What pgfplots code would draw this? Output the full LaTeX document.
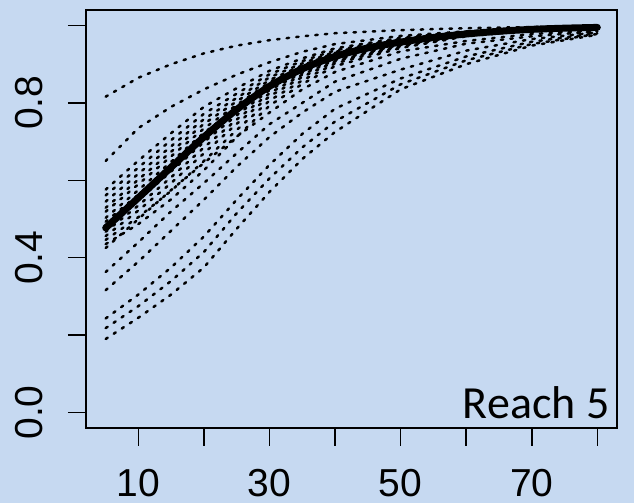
\documentclass[border=0pt]{standalone}
\usepackage{fontspec}
\setmainfont{Liberation Sans}
\newfontfamily\calib{Carlito}
\usepackage{pgfplots}
\pgfplotsset{compat=1.18}
\definecolor{bg}{HTML}{C6D9F1}
\begin{document}
\begin{tikzpicture}
\path[use as bounding box] (0,0) rectangle (317pt,251.5pt);
\fill[bg] (0,0) rectangle (317pt,251.5pt);
\begin{axis}[
  at={(43pt,37.5pt)}, anchor=south west, scale only axis,
  width=265.5pt, height=209pt,
  xmin=2, xmax=83, ymin=-0.04, ymax=1.04,
  axis line style={line width=0.75pt},
  tick align=outside, xtick pos=left, ytick pos=left,
  major tick length=9pt,
  every tick/.style={black, line width=0.75pt},
  xtick={10,20,30,40,50,60,70,80},
  xticklabels={10,,30,,50,,70,},
  ytick={0,0.2,0.4,0.6,0.8,1.0},
  yticklabels={0.0,,0.4,,0.8,},
  xticklabel style={font=\fontsize{19.5}{23}\selectfont, anchor=base, yshift=-25.5pt},
  yticklabel style={font=\fontsize{19.5}{23}\selectfont, xshift=-12.5pt, rotate=90, anchor=base},
  dotc/.style={black, line width=1.25pt, line cap=round, dash pattern=on 1.2pt off 3.6pt},
]
% top curves
\addplot[dotc] coordinates {(5,0.816)(10,0.865)(15,0.90)(20,0.928)(25,0.948)(30,0.962)(35,0.972)(40,0.98)(50,0.988)(60,0.993)(70,0.996)(80,0.997)};
\addplot[dotc] coordinates {(5,0.65)(10,0.735)(15,0.79)(20,0.835)(25,0.873)(30,0.905)(35,0.932)(40,0.952)(50,0.973)(60,0.985)(70,0.99)(80,0.993)};
% cluster
\addplot[dotc] coordinates {(5,0.576)(10,0.651)(15,0.722)(20,0.790)(25,0.838)(30,0.883)(35,0.915)(40,0.941)(50,0.968)(60,0.984)(70,0.993)(80,0.996)};
\addplot[dotc] coordinates {(5,0.561)(10,0.633)(15,0.704)(20,0.772)(25,0.824)(30,0.874)(35,0.908)(40,0.936)(50,0.965)(60,0.983)(70,0.992)(80,0.996)};
\addplot[dotc] coordinates {(5,0.545)(10,0.617)(15,0.688)(20,0.758)(25,0.813)(30,0.866)(35,0.902)(40,0.932)(50,0.963)(60,0.982)(70,0.992)(80,0.996)};
\addplot[dotc] coordinates {(5,0.529)(10,0.602)(15,0.674)(20,0.746)(25,0.804)(30,0.859)(35,0.897)(40,0.929)(50,0.961)(60,0.981)(70,0.991)(80,0.996)};
\addplot[dotc] coordinates {(5,0.519)(10,0.590)(15,0.662)(20,0.734)(25,0.795)(30,0.853)(35,0.893)(40,0.925)(50,0.959)(60,0.980)(70,0.991)(80,0.995)};
\addplot[dotc] coordinates {(5,0.503)(10,0.575)(15,0.648)(20,0.723)(25,0.786)(30,0.846)(35,0.888)(40,0.922)(50,0.957)(60,0.979)(70,0.990)(80,0.995)};
\addplot[dotc] coordinates {(5,0.493)(10,0.563)(15,0.636)(20,0.711)(25,0.777)(30,0.840)(35,0.883)(40,0.919)(50,0.955)(60,0.978)(70,0.990)(80,0.995)};
\addplot[dotc] coordinates {(5,0.477)(10,0.549)(15,0.623)(20,0.699)(25,0.768)(30,0.833)(35,0.878)(40,0.916)(50,0.954)(60,0.977)(70,0.990)(80,0.995)};
\addplot[dotc] coordinates {(5,0.467)(10,0.535)(15,0.608)(20,0.685)(25,0.757)(30,0.825)(35,0.873)(40,0.911)(50,0.951)(60,0.976)(70,0.989)(80,0.995)};
\addplot[dotc] coordinates {(5,0.456)(10,0.522)(15,0.593)(20,0.670)(25,0.746)(30,0.817)(35,0.867)(40,0.907)(50,0.949)(60,0.975)(70,0.989)(80,0.994)};
\addplot[dotc] coordinates {(5,0.446)(10,0.505)(15,0.573)(20,0.650)(25,0.730)(30,0.806)(35,0.858)(40,0.902)(50,0.946)(60,0.974)(70,0.988)(80,0.994)};
\addplot[dotc] coordinates {(5,0.435)(10,0.487)(15,0.551)(20,0.626)(25,0.712)(30,0.793)(35,0.849)(40,0.895)(50,0.942)(60,0.972)(70,0.987)(80,0.994)};
% lower curves
\addplot[dotc] coordinates {(5,0.425)(10,0.50)(15,0.575)(20,0.645)(25,0.713)(30,0.775)(35,0.835)(40,0.88)(50,0.933)(60,0.96)(70,0.978)(80,0.987)};
\addplot[dotc] coordinates {(5,0.363)(10,0.44)(15,0.52)(20,0.593)(25,0.67)(30,0.745)(35,0.80)(40,0.855)(50,0.914)(60,0.953)(70,0.972)(80,0.985)};
\addplot[dotc] coordinates {(5,0.316)(10,0.39)(15,0.47)(20,0.55)(25,0.635)(30,0.712)(35,0.775)(40,0.829)(50,0.886)(60,0.935)(70,0.965)(80,0.982)};
\addplot[dotc] coordinates {(5,0.243)(10,0.305)(15,0.375)(20,0.455)(25,0.55)(30,0.64)(35,0.72)(40,0.785)(50,0.863)(60,0.92)(70,0.958)(80,0.98)};
\addplot[dotc] coordinates {(5,0.218)(10,0.275)(15,0.34)(20,0.415)(25,0.515)(30,0.605)(35,0.685)(40,0.752)(50,0.848)(60,0.91)(70,0.952)(80,0.978)};
\addplot[dotc] coordinates {(5,0.19)(10,0.245)(15,0.305)(20,0.375)(25,0.475)(30,0.57)(35,0.655)(40,0.725)(50,0.835)(60,0.90)(70,0.948)(80,0.976)};
% mean
\addplot[black, line width=3.5pt, line cap=round, line join=round, smooth] coordinates {(5,0.477)(10,0.555)(15,0.634)(20,0.712)(25,0.783)(30,0.843)(35,0.888)(40,0.92)(45,0.942)(50,0.957)(55,0.969)(60,0.978)(65,0.985)(70,0.99)(75,0.993)(80,0.995)};
\node[anchor=base east, inner sep=0pt, font=\calib\fontsize{23}{27}\selectfont] at (axis cs:81.9,-0.0155) {Reach 5};
\end{axis}
\end{tikzpicture}
\end{document}
